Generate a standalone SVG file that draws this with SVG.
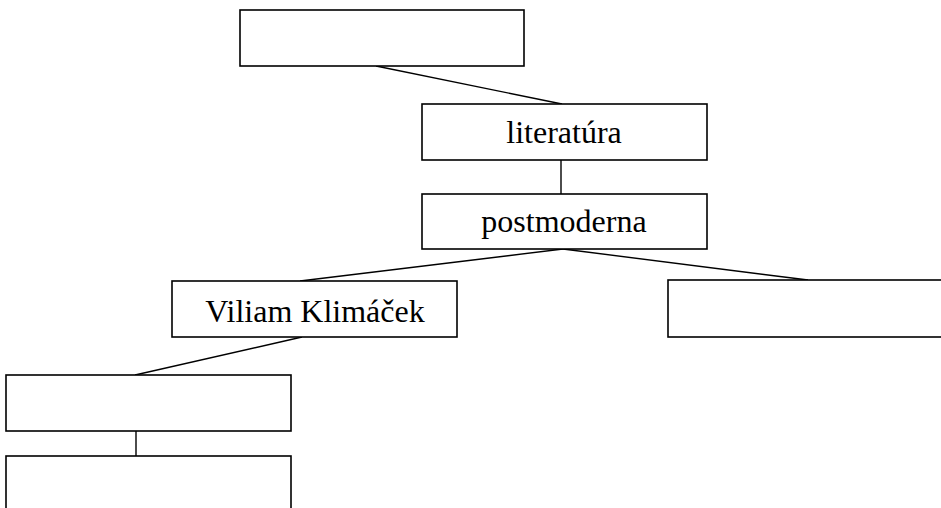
<svg xmlns="http://www.w3.org/2000/svg" width="941" height="508" viewBox="0 0 941 508">
<style>
.box{fill:#fff;stroke:#000;stroke-width:1.6}
.ln{stroke:#000;stroke-width:1.4;fill:none}
.t{font-family:"Liberation Serif","Times New Roman",serif;font-size:32px;fill:#000;text-anchor:middle}
</style>
<rect width="941" height="508" fill="#fff"/>
<g id="connectors">
<line class="ln" x1="376" y1="66" x2="562" y2="104"/>
<line class="ln" x1="561" y1="160" x2="561" y2="194"/>
<line class="ln" x1="563" y1="249" x2="300" y2="281"/>
<line class="ln" x1="563" y1="249" x2="808" y2="280"/>
<line class="ln" x1="302" y1="337" x2="135" y2="375"/>
<line class="ln" x1="136" y1="431" x2="136" y2="456"/>
</g>
<g id="node-top"><rect class="box" x="240" y="10" width="284" height="56"/></g>
<g id="node-literatura"><rect class="box" x="422" y="104" width="285" height="56"/><text class="t" x="564" y="143">literatúra</text></g>
<g id="node-postmoderna"><rect class="box" x="422" y="194" width="285" height="55"/><text class="t" x="564" y="232">postmoderna</text></g>
<g id="node-klimacek"><rect class="box" x="172" y="281" width="285" height="56"/><text class="t" x="315" y="322">Viliam Klimáček</text></g>
<g id="node-right"><rect class="box" x="668" y="280" width="280" height="57"/></g>
<g id="node-left1"><rect class="box" x="6" y="375" width="285" height="56"/></g>
<g id="node-left2"><rect class="box" x="6" y="456" width="285" height="60"/></g>
</svg>
